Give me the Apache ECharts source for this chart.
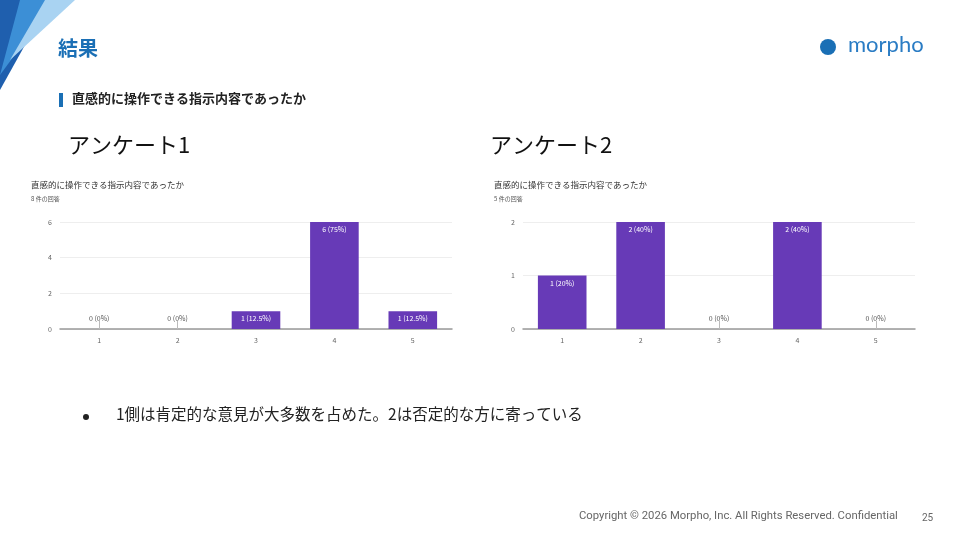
<!DOCTYPE html>
<html><head><meta charset="utf-8">
<script src="https://cdn.jsdelivr.net/npm/echarts@6/dist/echarts.min.js"></script>
<style>html,body{margin:0;padding:0;background:#fff}#c{width:960px;height:540px}</style>
</head><body><div id="c"></div>
<script>
var categories = ['1', '2', '3', '4', '5'];
var survey1 = [0, 0, 1, 6, 1];
var survey1Pct = ['0%', '0%', '12.5%', '75%', '12.5%'];
var survey2 = [1, 2, 0, 2, 0];
var survey2Pct = ['20%', '40%', '0%', '40%', '0%'];
var question = '直感的に操作できる指示内容であったか';

var font = '"Noto Sans CJK JP", "Noto Sans", sans-serif';
var purple = '#673ab7';

function barData(vals, pcts) {
  return vals.map(function (v, i) {
    var lab = v + ' (' + pcts[i] + ')';
    if (v === 0) {
      return { value: v, label: { show: true, position: 'top', offset: [0, -2], color: '#555', formatter: lab } };
    }
    return { value: v, label: { show: true, position: 'insideTop', offset: [0, -1], color: '#fff', formatter: lab } };
  });
}

function xAxis(idx) {
  return {
    type: 'category', gridIndex: idx, data: categories,
    axisLine: { lineStyle: { color: '#999', width: 1.5 } },
    axisTick: { show: true, alignWithLabel: true, inside: true, length: 8, lineStyle: { color: '#bbb' } },
    axisLabel: { color: '#666', fontSize: 7, fontFamily: font, margin: 8 }
  };
}
function yAxis(idx, max, step) {
  return {
    type: 'value', gridIndex: idx, min: 0, max: max, interval: step,
    axisLabel: { color: '#666', fontSize: 7, fontFamily: font, margin: 8 },
    splitLine: { lineStyle: { color: '#eee' } }
  };
}

var chart = echarts.init(document.getElementById('c'));
chart.setOption({
  animation: false,
  textStyle: { fontFamily: font },
  grid: [
    { left: 60, top: 222, width: 392, height: 107 },
    { left: 523, top: 222, width: 392, height: 107 }
  ],
  xAxis: [xAxis(0), xAxis(1)],
  yAxis: [yAxis(0, 6, 2), yAxis(1, 2, 1)],
  series: [
    { type: 'bar', xAxisIndex: 0, yAxisIndex: 0, barWidth: '62%', itemStyle: { color: purple },
      label: { fontSize: 7, fontFamily: font }, data: barData(survey1, survey1Pct) },
    { type: 'bar', xAxisIndex: 1, yAxisIndex: 1, barWidth: '62%', itemStyle: { color: purple },
      label: { fontSize: 7, fontFamily: font }, data: barData(survey2, survey2Pct) }
  ],
  graphic: [
    { type: 'polygon', shape: { points: [[0, 0], [50, 0], [0, 90]] }, style: { fill: '#1f5fae' } },
    { type: 'polygon', shape: { points: [[20, 0], [55, 0], [0, 75]] }, style: { fill: '#3c8fd6' } },
    { type: 'polygon', shape: { points: [[45, 0], [75, 0], [10, 60]] }, style: { fill: '#a9d3f2' } },
    { type: 'text', left: 58, top: 38, style: { text: '結果', fontSize: 20, fontWeight: 'bold', fill: '#1a6fb5', fontFamily: font } },
    { type: 'rect', shape: { x: 59, y: 93, width: 4, height: 14 }, style: { fill: '#1a6fb5' } },
    { type: 'text', left: 72, top: 92, style: { text: question, fontSize: 13, fontWeight: 'bold', fill: '#222', fontFamily: font } },
    { type: 'circle', shape: { cx: 828, cy: 47, r: 8 }, style: { fill: '#1a6fb5' } },
    { type: 'text', left: 848, top: 34, style: { text: 'morpho', fontSize: 22, fill: '#2a7cc4', fontFamily: 'Lato, sans-serif' } },
    { type: 'text', left: 68, top: 134, style: { text: 'アンケート1', fontSize: 22, fill: '#111', fontFamily: font } },
    { type: 'text', left: 490, top: 134, style: { text: 'アンケート2', fontSize: 22, fill: '#111', fontFamily: font } },
    { type: 'text', left: 31, top: 181, style: { text: question, fontSize: 8.5, fill: '#333', fontFamily: font } },
    { type: 'text', left: 31, top: 196, style: { text: '8 件の回答', fontSize: 6, fill: '#555', fontFamily: font } },
    { type: 'text', left: 494, top: 181, style: { text: question, fontSize: 8.5, fill: '#333', fontFamily: font } },
    { type: 'text', left: 494, top: 196, style: { text: '5 件の回答', fontSize: 6, fill: '#555', fontFamily: font } },
    { type: 'circle', shape: { cx: 86, cy: 417, r: 3 }, style: { fill: '#222' } },
    { type: 'text', left: 116, top: 406, style: { text: '1側は肯定的な意見が大多数を占めた。2は否定的な方に寄っている', fontSize: 15.5, fill: '#222', fontFamily: font } },
    { type: 'text', left: 579, top: 511, style: { text: 'Copyright © 2026 Morpho, Inc. All Rights Reserved. Confidential', fontSize: 11.3, fill: '#666', fontFamily: 'Roboto, sans-serif' } },
    { type: 'text', left: 922, top: 513, style: { text: '25', fontSize: 10, fill: '#666', fontFamily: 'Roboto, sans-serif' } }
  ]
});
</script></body></html>
